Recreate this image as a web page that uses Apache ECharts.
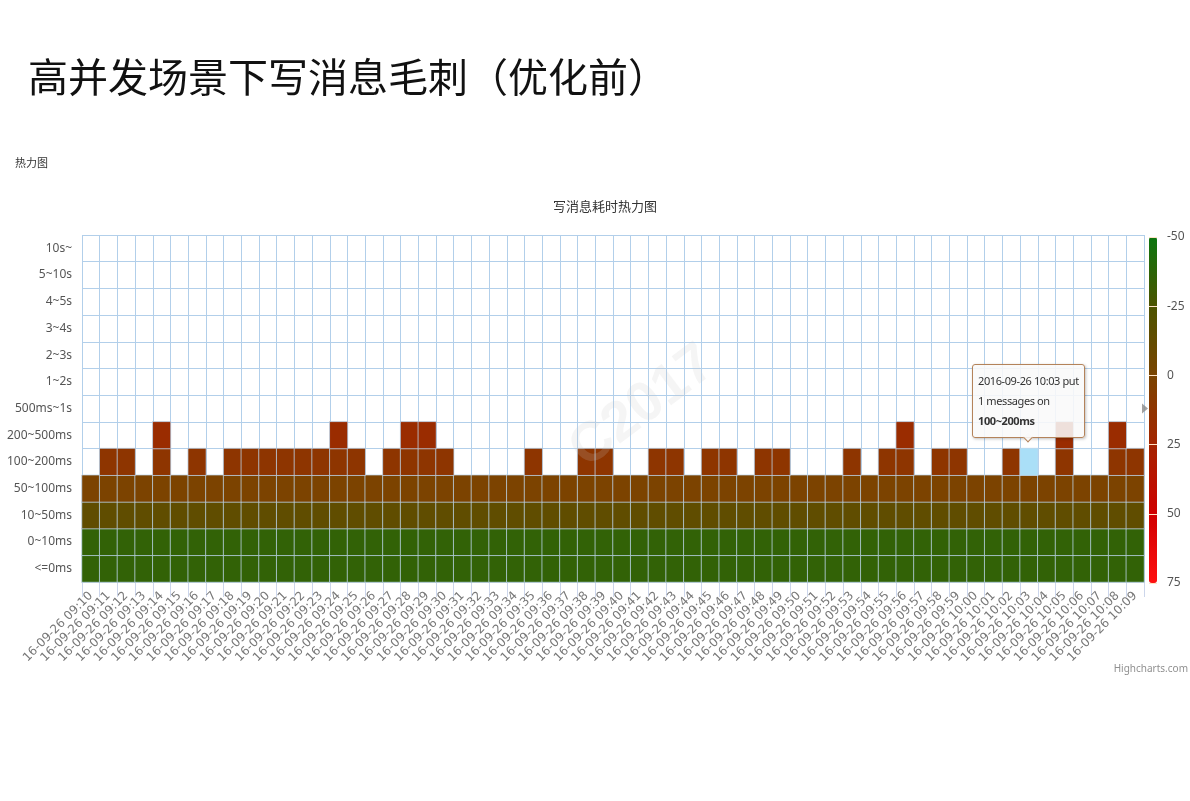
<!DOCTYPE html>
<html>
<head>
<meta charset="utf-8">
<script src="https://cdn.jsdelivr.net/npm/echarts@6/dist/echarts.min.js"></script>
<style>
html,body{margin:0;padding:0;background:#fff;}
#chart{width:1190px;height:801px;}
</style>
</head>
<body>
<div id="chart"></div>
<script>
// ---------- data ----------
const slideTitle = '高并发场景下写消息毛刺（优化前）';
const smallLabel = '热力图';
const chartTitle = '写消息耗时热力图';
const credits = 'Highcharts.com';
const watermark = 'C2017';

const timeLabels = [
  '16-09-26 09:10','16-09-26 09:11','16-09-26 09:12','16-09-26 09:13','16-09-26 09:14',
  '16-09-26 09:15','16-09-26 09:16','16-09-26 09:17','16-09-26 09:18','16-09-26 09:19',
  '16-09-26 09:20','16-09-26 09:21','16-09-26 09:22','16-09-26 09:23','16-09-26 09:24',
  '16-09-26 09:25','16-09-26 09:26','16-09-26 09:27','16-09-26 09:28','16-09-26 09:29',
  '16-09-26 09:30','16-09-26 09:31','16-09-26 09:32','16-09-26 09:33','16-09-26 09:34',
  '16-09-26 09:35','16-09-26 09:36','16-09-26 09:37','16-09-26 09:38','16-09-26 09:39',
  '16-09-26 09:40','16-09-26 09:41','16-09-26 09:42','16-09-26 09:43','16-09-26 09:44',
  '16-09-26 09:45','16-09-26 09:46','16-09-26 09:47','16-09-26 09:48','16-09-26 09:49',
  '16-09-26 09:50','16-09-26 09:51','16-09-26 09:52','16-09-26 09:53','16-09-26 09:54',
  '16-09-26 09:55','16-09-26 09:56','16-09-26 09:57','16-09-26 09:58','16-09-26 09:59',
  '16-09-26 10:00','16-09-26 10:01','16-09-26 10:02','16-09-26 10:03','16-09-26 10:04',
  '16-09-26 10:05','16-09-26 10:06','16-09-26 10:07','16-09-26 10:08','16-09-26 10:09'
];

const latencyLabels = ['<=0ms','0~10ms','10~50ms','50~100ms','100~200ms','200~500ms',
  '500ms~1s','1~2s','2~3s','3~4s','4~5s','5~10s','10s~'];

const _ = null;
const rowLe0 = [
  -35,-35,-35,-35,-35,-35,-35,-35,-35,-35,-35,-35,-35,-35,-35,-35,-35,-35,-35,-35,
  -35,-35,-35,-35,-35,-35,-35,-35,-35,-35,-35,-35,-35,-35,-35,-35,-35,-35,-35,-35,
  -35,-35,-35,-35,-35,-35,-35,-35,-35,-35,-35,-35,-35,-35,-35,-35,-35,-35,-35,-35];
const row0to10 = [
  -35,-35,-35,-35,-35,-35,-35,-35,-35,-35,-35,-35,-35,-35,-35,-35,-35,-35,-35,-35,
  -35,-35,-35,-35,-35,-35,-35,-35,-35,-35,-35,-35,-35,-35,-35,-35,-35,-35,-35,-35,
  -35,-35,-35,-35,-35,-35,-35,-35,-35,-35,-35,-35,-35,-35,-35,-35,-35,-35,-35,-35];
const row10to50 = [
  -14,-14,-14,-14,-14,-14,-14,-14,-14,-14,-14,-14,-14,-14,-14,-14,-14,-14,-14,-14,
  -14,-14,-14,-14,-14,-14,-14,-14,-14,-14,-14,-14,-14,-14,-14,-14,-14,-14,-14,-14,
  -14,-14,-14,-14,-14,-14,-14,-14,-14,-14,-14,-14,-14,-14,-14,-14,-14,-14,-14,-14];
const row50to100 = [
  1,1,1,1,1,1,1,1,1,1,1,1,1,1,1,1,1,1,1,1,
  1,1,1,1,1,1,1,1,1,1,1,1,1,1,1,1,1,1,1,1,
  1,1,1,1,1,1,1,1,1,1,1,1,1,1,1,1,1,1,1,1];
const row100to200 = [
  _,12,12,_,12,_,12,_,12,12,12,12,12,12,12,12,_,12,12,12,
  12,_,_,_,_,12,_,_,12,12,_,_,12,12,_,12,12,_,12,12,
  _,_,_,12,_,12,12,_,12,12,_,_,12,12,_,12,_,_,12,12];
const row200to500 = [
  _,_,_,_,19,_,_,_,_,_,_,_,_,_,19,_,_,_,19,19,
  _,_,_,_,_,_,_,_,_,_,_,_,_,_,_,_,_,_,_,_,
  _,_,_,_,_,_,19,_,_,_,_,_,_,_,_,19,_,_,19,_];
const rows = [rowLe0, row0to10, row10to50, row50to100, row100to200, row200to500];

const colorMin = -50, colorMax = 75, colorStep = 25;
const colorStops = ['#0b760f','#4c5400','#7a4400','#a42400','#d00000','#ff1010'];

// hovered cell (tooltip)
const hoverCol = 53, hoverRow = 4, hoverMessages = 1;

// ---------- build ----------
const heatData = [];
let hoverIndex = -1;
rows.forEach((row, r) => {
  row.forEach((v, c) => {
    if (v !== null) {
      if (c === hoverCol && r === hoverRow) hoverIndex = heatData.length;
      heatData.push([c, r, v]);
    }
  });
});
const hoverValue = rows[hoverRow][hoverCol];

const uiFont = "'Noto Sans',sans-serif";

const chart = echarts.init(document.getElementById('chart'), null, {renderer: 'canvas'});
const option = {
  animation: false,
  backgroundColor: '#ffffff',
  title: [
    {text: slideTitle, left: 28, top: 57, padding: 0,
     textStyle: {fontFamily: "'Noto Sans CJK SC',sans-serif", fontSize: 40, fontWeight: 'normal', color: '#111'}},
    {text: smallLabel, left: 15, top: 157, padding: 0,
     textStyle: {fontFamily: "'Noto Sans CJK SC',sans-serif", fontSize: 11, fontWeight: 'normal', color: '#333'}},
    {text: chartTitle, left: 605, textAlign: 'center', top: 200, padding: 0,
     textStyle: {fontFamily: "'Noto Sans CJK SC',sans-serif", fontSize: 13, fontWeight: 'normal', color: '#333'}},
    {text: credits, right: 2, top: 664, padding: 0,
     textStyle: {fontFamily: uiFont, fontSize: 10, fontWeight: 'normal', color: '#909090'}}
  ],
  graphic: [{
    type: 'text', left: 560, top: 335, rotation: Math.PI * 37 / 180, z: 100, silent: true,
    style: {text: watermark, font: 'bold 56px sans-serif', fill: 'rgba(200,200,200,0.18)'}
  }],
  tooltip: {
    trigger: 'item',
    alwaysShowContent: true,
    position: 'top',
    backgroundColor: 'rgba(249,249,249,0.88)',
    borderColor: '#b4835a',
    borderWidth: 1,
    padding: [6, 5],
    extraCssText: 'border-radius:3px;box-shadow:1px 1px 3px rgba(0,0,0,0.25);letter-spacing:-0.4px;line-height:20px;',
    textStyle: {fontFamily: uiFont, fontSize: 11, color: '#333'},
    formatter: function (p) {
      if (p.seriesIndex !== 0) return '';
      return '<div style="line-height:20px">20' + timeLabels[p.value[0]] + ' put<br/>' + hoverMessages +
        ' messages on<br/><b>' + latencyLabels[p.value[1]] + '</b></div>';
    }
  },
  grid: [
    {left: 82, right: 46, top: 235, bottom: 219, containLabel: false},
    {left: 1149, width: 8, top: 237, bottom: 218, containLabel: false}
  ],
  xAxis: [
    {type: 'category', gridIndex: 0, data: timeLabels,
     axisLine: {show: true, lineStyle: {color: '#c6d4e4'}},
     axisTick: {show: true, interval: 0, length: 15, lineStyle: {color: '#ccd6eb'}},
     axisLabel: {interval: 0, rotate: 45, margin: 12, color: '#777', fontSize: 12, fontFamily: "'DejaVu Sans',sans-serif"},
     splitLine: {show: true, interval: 0, lineStyle: {color: '#b2cfea', width: 1}}},
    {type: 'category', gridIndex: 1, data: ['bar'], show: false}
  ],
  yAxis: [
    {type: 'category', gridIndex: 0, data: latencyLabels,
     axisLine: {show: false}, axisTick: {show: false},
     axisLabel: {margin: 10, color: '#555', fontSize: 12, fontFamily: uiFont},
     splitLine: {show: true, interval: 0, lineStyle: {color: '#b2cfea', width: 1}}},
    {type: 'value', gridIndex: 1, min: colorMin, max: colorMax, interval: colorStep, inverse: true,
     position: 'right', z: 10,
     axisLine: {show: false},
     axisTick: {show: true, inside: true, length: 8, lineStyle: {color: '#ffe2c4', width: 1}},
     axisLabel: {margin: 10, color: '#555', fontSize: 12, fontFamily: uiFont},
     splitLine: {show: false}}
  ],
  visualMap: {
    type: 'continuous', min: colorMin, max: colorMax, seriesIndex: 0,
    orient: 'vertical', inverse: true, calculable: false, hoverLink: false,
    left: 1149, top: 237, padding: 0, itemWidth: 8, itemHeight: 346,
    text: null, showLabel: false,
    inRange: {color: colorStops}
  },
  series: [
    {type: 'heatmap', xAxisIndex: 0, yAxisIndex: 0, data: heatData,
     itemStyle: {borderColor: 'rgba(190,215,238,0.75)', borderWidth: 1},
     emphasis: {itemStyle: {color: '#aadff7', borderColor: 'rgba(190,215,238,0.75)'}}},
    {type: 'scatter', xAxisIndex: 1, yAxisIndex: 1, data: [['bar', hoverValue]],
     symbol: 'triangle', symbolSize: [10, 6], symbolRotate: -90, symbolOffset: [-8, 0],
     itemStyle: {color: '#8a8a8a'}, silent: true, tooltip: {show: false}}
  ]
};
chart.setOption(option);
chart.dispatchAction({type: 'highlight', seriesIndex: 0, dataIndex: hoverIndex});
chart.dispatchAction({type: 'showTip', seriesIndex: 0, dataIndex: hoverIndex});
</script>
</body>
</html>
